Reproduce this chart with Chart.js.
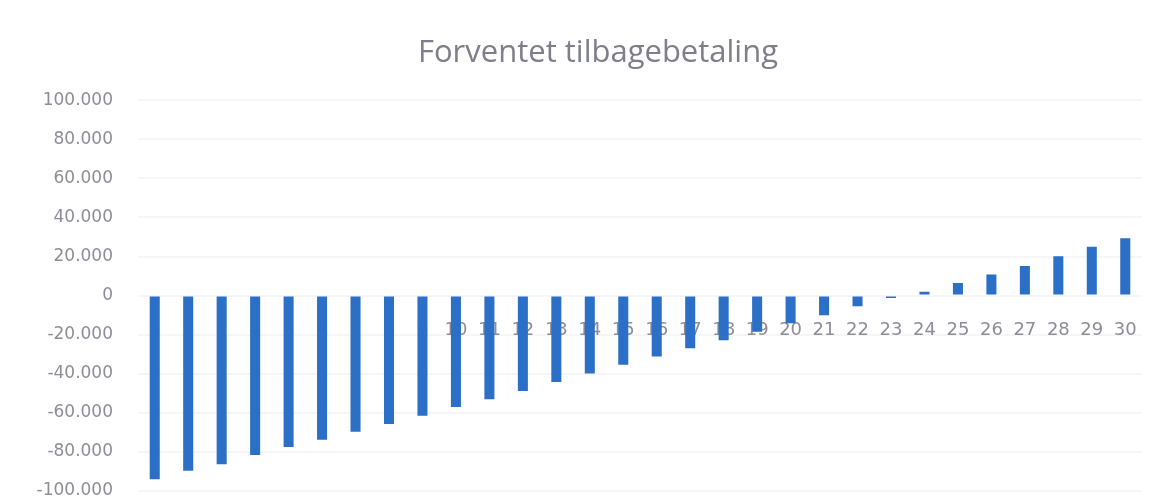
<!DOCTYPE html>
<html>
<head>
<meta charset="utf-8">
<title>Forventet tilbagebetaling</title>
<script src="https://cdn.jsdelivr.net/npm/chart.js@4/dist/chart.umd.min.js"></script>
<style>
	html, body { margin: 0; padding: 0; background: #fff; }
	#wrap { width: 1162px; height: 500px; }
</style>
</head>
<body>
<div id="wrap"><canvas id="payback-chart"></canvas></div>
<script>
const years = ['1', '2', '3', '4', '5', '6', '7', '8', '9', '10', '11', '12', '13', '14', '15',
	'16', '17', '18', '19', '20', '21', '22', '23', '24', '25', '26', '27', '28', '29', '30'];
const payback = [-94000, -89700, -86300, -81600, -77500, -73800, -69700, -65700, -61500, -57000,
	-53100, -48800, -44200, -39900, -35400, -31200, -26900, -22800, -18500, -14200,
	-10000, -5500, -1200, 2000, 6500, 10800, 15100, 20200, 25000, 29300];
const yMin = -100000;
const yMax = 100000;
const yStep = 20000;

// 100000 -> "100.000"
function formatThousands(v) {
	const s = String(Math.abs(v)).replace(/\B(?=(\d{3})+(?!\d))/g, '.');
	return v < 0 ? '-' + s : s;
}

const labelGray = '#8d8d98';

// nudge the title a bit to the right of the canvas centre
const titleShift = {
	id: 'titleShift',
	afterLayout(chart) {
		if (chart.titleBlock) {
			chart.titleBlock.left += 34;
		}
	}
};

const paybackChart = new Chart(document.getElementById('payback-chart'), {
	type: 'bar',
	data: {
		labels: years,
		datasets: [{
			data: payback,
			backgroundColor: '#2b6fc6',
			borderWidth: 0,
			barPercentage: 0.3,
			categoryPercentage: 1
		}]
	},
	options: {
		responsive: true,
		maintainAspectRatio: false,
		animation: false,
		layout: {
			padding: { left: 20, right: 20, top: 0, bottom: 9 }
		},
		scales: {
			x: {
				position: { y: 0 },
				afterFit: scale => { scale.height = 0; },
				grid: { display: false },
				border: { display: false },
				ticks: {
					color: labelGray,
					padding: 16,
					maxRotation: 0,
					autoSkip: false,
					font: { family: 'DejaVu Sans', size: 18 }
				}
			},
			y: {
				min: yMin,
				max: yMax,
				afterFit: scale => {
					// fixed label column; the tick padding should not eat vertical room
					scale.width = 118;
					scale.paddingTop = 0;
					scale.paddingBottom = 0;
				},
				grid: { color: '#f6f6f8', lineWidth: 2, drawTicks: false },
				border: { display: false },
				ticks: {
					stepSize: yStep,
					color: labelGray,
					padding: 25,
					font: { family: 'DejaVu Sans', size: 17 },
					callback: v => formatThousands(v)
				}
			}
		},
		plugins: {
			legend: { display: false },
			tooltip: { enabled: false },
			title: {
				display: true,
				text: 'Forventet tilbagebetaling',
				color: '#7e7e8c',
				font: { family: 'Open Sans', size: 31, weight: 'normal' },
				padding: { top: 35, bottom: 28 }
			}
		}
	},
	plugins: [titleShift]
});
</script>
</body>
</html>
